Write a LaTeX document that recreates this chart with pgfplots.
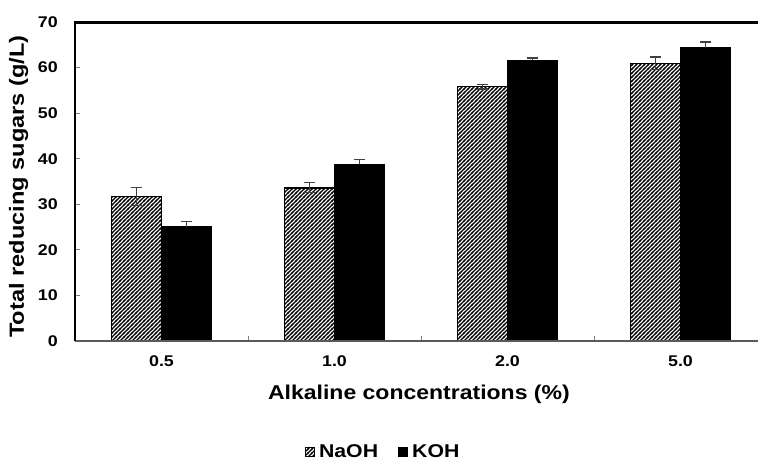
\documentclass[border=0pt]{standalone}
\usepackage{fontspec}
\setmainfont{Liberation Sans}[FakeStretch=1.15]
\usepackage{pgfplots}
\pgfplotsset{compat=1.18}
\usetikzlibrary{patterns.meta}
\tikzdeclarepattern{
  name=dhatch,
  type=uncolored,
  bottom left={(-1pt,-1pt)},
  top right={(5pt,5pt)},
  tile size={(4pt,4pt)},
  code={\draw[line width=1.1pt] (-1pt,-1pt) -- (5pt,5pt);}
}
\definecolor{errgray}{HTML}{404040}
\definecolor{axgray}{HTML}{5A5A5A}
\begin{document}
\begin{tikzpicture}
\begin{axis}[
  scale only axis,
  width=692pt, height=319pt,
  xmin=-0.5, xmax=3.5, ymin=0, ymax=70,
  ybar=0pt, bar width=50pt,
  clip=false,
  axis line style={draw=none},
  xtick={0.5,1.5,2.5}, xticklabels={},
  extra x ticks={0,1,2,3},
  extra x tick labels={0.5,1.0,2.0,5.0},
  extra x tick style={major tick length=0pt},
  xtick pos=left, ytick pos=left,
  ytick={0,10,...,70},
  tick align=inside,
  major tick length=5pt,
  tick style={draw=gray, line width=0.8pt},
  /pgf/number format/assume math mode=true,
  ticklabel style={font=\fontsize{15.5}{17}\selectfont\bfseries},
  yticklabel style={inner sep=0pt, xshift=-17pt},
  xticklabel style={inner sep=0pt, yshift=-14pt},
  xlabel={Alkaline concentrations (\%)},
  ylabel={Total reducing sugars (g/L)},
  xlabel style={font=\fontsize{20}{22}\selectfont\bfseries, at={(axis description cs:0.497,-0.166)}, anchor=center},
  ylabel style={font=\fontsize{20.5}{22}\selectfont\bfseries, at={(axis description cs:-0.0816,0.484)}, anchor=center},
  legend columns=2,
  legend style={draw=none, fill=none, at={(axis description cs:0.447,-0.348)}, anchor=center,
    font=\fontsize{18.5}{20}\selectfont\bfseries,
    /tikz/every even column/.append style={column sep=16pt},
    nodes={inner ysep=1pt, inner xsep=4pt}},
]
\addplot[draw=black, line width=1.5pt, pattern=dhatch, pattern color=black,
  error bars/.cd, y dir=both, y explicit,
  error bar style={color=errgray, line width=1.2pt},
  error mark options={rotate=90, mark size=5.5pt, color=errgray, line width=1.2pt},
  /pgfplots/.cd,
  legend image code/.code={\draw[line width=0.8pt, pattern=dhatch, pattern color=black] (0pt,-4.5pt) rectangle (9pt,4.5pt);}]
coordinates {(0,31.7) +- (0,2.0) (1,33.6) +- (0,1.1) (2,55.8) +- (0,0.5) (3,60.9) +- (0,1.4)};
\addlegendentry{NaOH}
\addplot[draw=black, fill=black, line width=1pt,
  error bars/.cd, y dir=plus, y explicit,
  error bar style={color=errgray, line width=1.2pt},
  error mark options={rotate=90, mark size=5.5pt, color=errgray, line width=1.2pt},
  /pgfplots/.cd,
  legend image code/.code={\fill[black] (0pt,-4.5pt) rectangle (9pt,4.5pt);}]
coordinates {(0,25.1) +- (0,1.2) (1,38.8) +- (0,1.1) (2,61.6) +- (0,0.5) (3,64.4) +- (0,1.2)};
\addlegendentry{KOH}
\draw[axgray, line width=2.6pt] (rel axis cs:0,0) -- (rel axis cs:1,0);
\draw[black, line width=2.6pt] (rel axis cs:0,0) -- (rel axis cs:0,1);
\draw[black, line width=3pt] ([xshift=-1.3pt]rel axis cs:0,1) -- (rel axis cs:1,1);
\coordinate (O) at (rel axis cs:0,0);
\end{axis}
\pgfresetboundingbox
\path[use as bounding box] ([shift={(-75pt,-120pt)}]O) rectangle ([shift={(683pt,341pt)}]O);
\end{tikzpicture}
\end{document}
